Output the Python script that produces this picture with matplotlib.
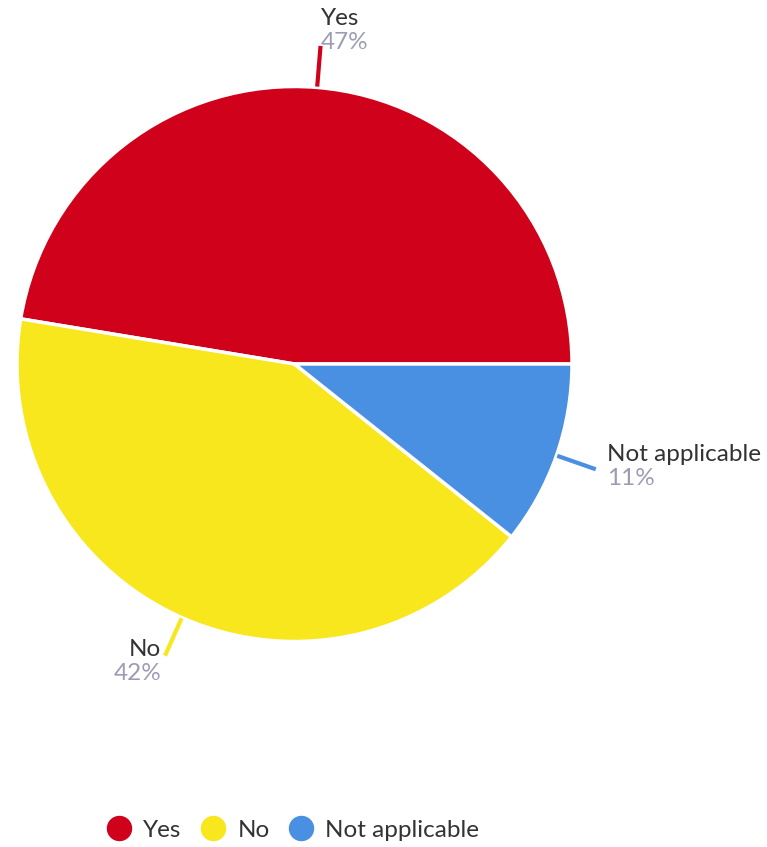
import numpy as np
import matplotlib
matplotlib.use("Agg")
import matplotlib.pyplot as plt
from matplotlib.lines import Line2D

# ---- data ----
categories = ["Yes", "No", "Not applicable"]
shares = [47.4, 41.9, 10.7]
labels_pct = [47, 42, 11]             # as printed on the chart
colors = ["#D0021B", "#F8E71C", "#4A90E2"]

plt.rcParams['font.family'] = ['Lato', 'DejaVu Sans']

W, H = 767, 847
fig = plt.figure(figsize=(W / 100, H / 100), dpi=100)
ax = fig.add_axes([0, 0, 1, 1])

cx, cy, R = 294.5, H - 364, 277.5
wedges, _ = ax.pie(shares, colors=colors, startangle=0, counterclock=True,
                   center=(cx, cy), radius=R, frame=True,
                   wedgeprops=dict(edgecolor='white', linewidth=2.5))
ax.set_xlim(0, W)
ax.set_ylim(0, H)
ax.set_aspect('equal')
ax.axis('off')

text_dark = "#333333"
text_gray = "#9C9CB4"
fs = 17.5
# per-label offsets (pixels) from end of connector: (dx, dy_name, dy_pct, ha)
label_style = [(0, 27, 3, 'left'), (-4, 6, -18, 'right'), (11, 15, -9, 'left')]

for w, cat, p, col, (dx, dyn, dyp, ha) in zip(wedges, categories, labels_pct, colors, label_style):
    ang = np.deg2rad((w.theta1 + w.theta2) / 2)
    r0, r1 = R * 1.003, R * 1.15
    x0, y0 = cx + r0 * np.cos(ang), cy + r0 * np.sin(ang)
    x1, y1 = cx + r1 * np.cos(ang), cy + r1 * np.sin(ang)
    ax.plot([x0, x1], [y0, y1], color=col, lw=3, solid_capstyle='butt')
    ax.text(x1 + dx, y1 + dyn, cat, ha=ha, va='center', fontsize=fs, color=text_dark)
    ax.text(x1 + dx, y1 + dyp, f"{p}%", ha=ha, va='center', fontsize=fs, color=text_gray)

handles = [Line2D([0], [0], marker='o', linestyle='', markersize=17.3,
                  markerfacecolor=c, markeredgecolor=c) for c in colors]
fig.legend(handles, categories, loc='center', bbox_to_anchor=(293 / W, 1 - 830 / H),
           ncol=3, frameon=False, fontsize=fs, handletextpad=0.5, columnspacing=0.8,
           labelcolor=text_dark, handlelength=1.0)

fig.savefig("out.png", dpi=100)
